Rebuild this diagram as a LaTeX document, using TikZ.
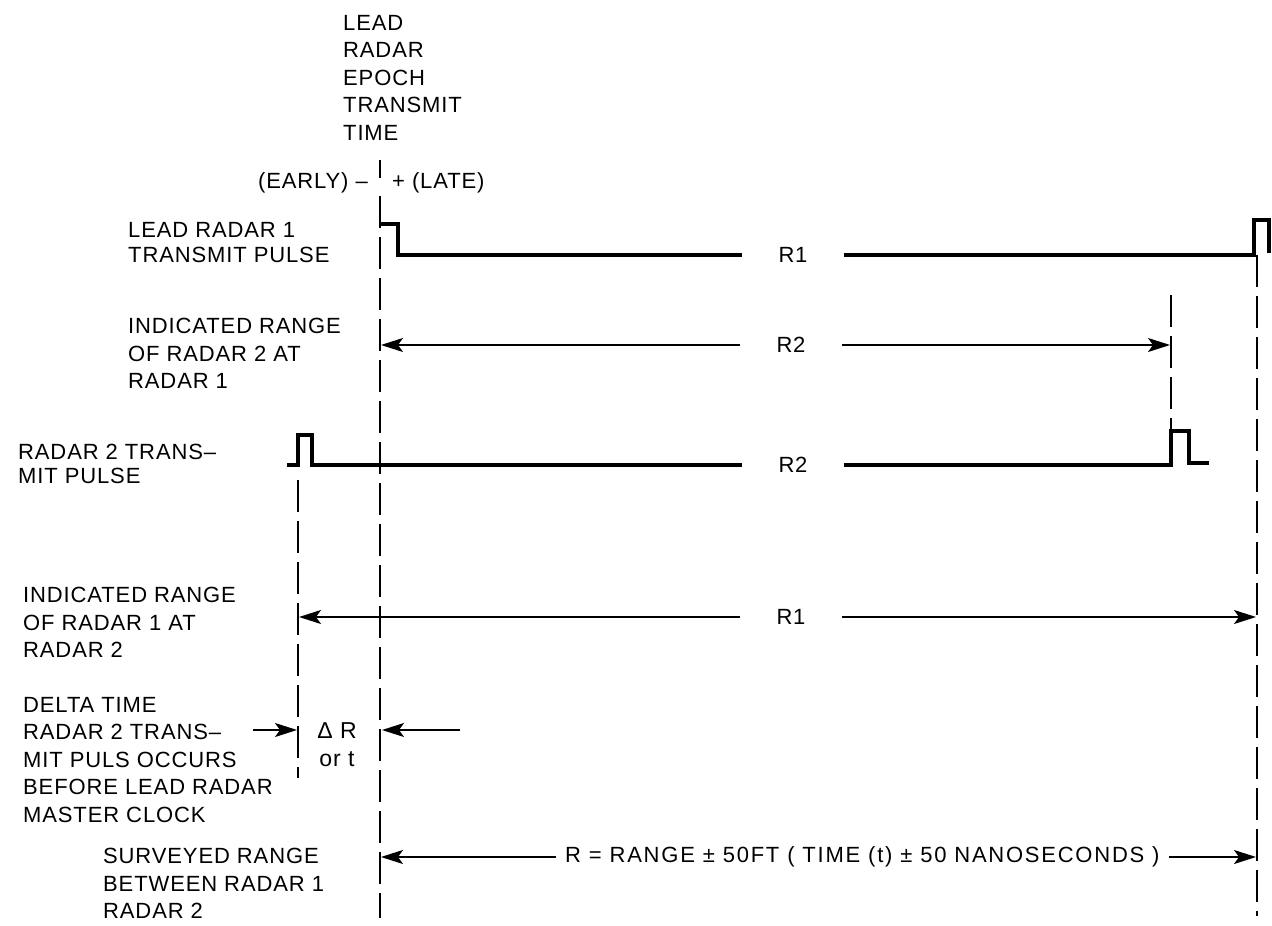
\documentclass[tikz,border=0pt]{standalone}
\usepackage{fontspec}
\setmainfont{Liberation Sans}[LetterSpace=4]
\usetikzlibrary{arrows.meta}
\begin{document}
\begin{tikzpicture}[x=1pt,y=-1pt,
  wave/.style={line width=4pt, line join=miter},
  dline/.style={line width=1.8pt, dash pattern=on 32pt off 9pt},
  arr/.style={line width=1.6pt, -{Stealth[length=22pt,width=14pt,inset=5pt]}},
  lbl/.style={anchor=north west, inner sep=0pt, align=left, font=\fontsize{22}{27.5}\selectfont},
  rlab/.style={inner ysep=0pt, inner xsep=36pt, font=\fontsize{22}{27.5}\selectfont}]
\useasboundingbox (0,0) rectangle (1272,926);

% ---- text labels ----
\node[lbl] (epoch) at (343,15) {LEAD\\RADAR\\EPOCH\\TRANSMIT\\TIME};
\node[anchor=base east, inner sep=0pt, font=\fontsize{22}{27.5}\selectfont] (early) at (368,188) {(EARLY) –};
\node[anchor=base west, inner sep=0pt, font=\fontsize{22}{27.5}\selectfont] (late) at (392,188) {+ (LATE)};
\node[lbl, font=\fontsize{22}{25}\selectfont] (l1) at (128,222) {LEAD RADAR 1\\TRANSMIT PULSE};
\node[lbl] (l2) at (128,318) {INDICATED RANGE\\OF RADAR 2 AT\\RADAR 1};
\node[lbl, font=\fontsize{22}{23.5}\selectfont] (l3) at (18,444) {RADAR 2 TRANS–\\MIT PULSE};
\node[lbl] (l4) at (23,587) {INDICATED RANGE\\OF RADAR 1 AT\\RADAR 2};
\node[lbl] (l5) at (23,697) {DELTA TIME\\RADAR 2 TRANS–\\MIT PULS OCCURS\\BEFORE LEAD RADAR\\MASTER CLOCK};
\node[lbl] (l6) at (103,848) {SURVEYED RANGE\\BETWEEN RADAR 1\\RADAR 2};
\node[inner sep=0pt, align=center, font=\fontsize{23}{28}\selectfont] (dR) at (337,745) {Δ R\\or t};

% ---- vertical reference lines ----
\coordinate (tickA) at (380,160);
\coordinate (tickB) at (380,178);
\draw[line width=1.6pt] (tickA) -- (tickB);
\coordinate (mainT) at (380,196);
\coordinate (mainB) at (380,918);
\draw[dline] (mainT) -- (mainB);
\coordinate (rightT) at (1257,255);
\coordinate (rightB) at (1257,916);
\draw[dline] (rightT) -- (rightB);
\coordinate (midT) at (1171,295);
\coordinate (midB) at (1171,432);
\draw[dline] (midT) -- (midB);
\coordinate (leftT) at (298,480);
\coordinate (leftB) at (298,778);
\draw[dline] (leftT) -- (leftB);

% ---- lead radar 1 transmit pulse ----
\node[rlab] (r1a) at (793,255) {R1};
\coordinate (w1a) at (380,224);
\coordinate (w1b) at (1269,253);
\draw[wave] (w1a) -- (398,224) -- (398,255) -- (r1a.west);
\draw[wave] (r1a.east) -- (1254,255) -- (1254,220) -- (1269,220) -- (w1b);

% ---- indicated range of radar 2 at radar 1 ----
\node[rlab] (r2a) at (791,345) {R2};
\coordinate (a1L) at (381,345);
\coordinate (a1R) at (1170,345);
\draw[arr] (r2a.west) -- (a1L);
\draw[arr] (r2a.east) -- (a1R);

% ---- radar 2 transmit pulse ----
\node[rlab] (r2b) at (793,465) {R2};
\coordinate (w2a) at (287,465);
\coordinate (w2b) at (1209,463);
\draw[wave] (w2a) -- (298,465) -- (298,435) -- (312,435) -- (312,465) -- (r2b.west);
\draw[wave] (r2b.east) -- (1171,465) -- (1171,431) -- (1189,431) -- (1189,463) -- (w2b);

% ---- indicated range of radar 1 at radar 2 ----
\node[rlab] (r1b) at (791,617) {R1};
\coordinate (a2L) at (299,617);
\coordinate (a2R) at (1256,617);
\draw[arr] (r1b.west) -- (a2L);
\draw[arr] (r1b.east) -- (a2R);

% ---- delta time ----
\coordinate (d1s) at (253,730);
\coordinate (d1e) at (297,730);
\coordinate (d2s) at (460,730);
\coordinate (d2e) at (382,730);
\draw[arr] (d1s) -- (d1e);
\draw[arr] (d2s) -- (d2e);

% ---- surveyed range ----
\node[anchor=west, inner ysep=0pt, inner xsep=9pt, font=\fontsize{22}{27.5}\selectfont\addfontfeature{LetterSpace=8}] (rng) at (556,857) {R = RANGE ± 50FT ( TIME (t) ± 50 NANOSECONDS )};
\coordinate (sL) at (381,857);
\coordinate (sR) at (1256,857);
\draw[arr] (rng.west) -- (sL);
\draw[arr] (rng.east) -- (sR);
\end{tikzpicture}
\end{document}
